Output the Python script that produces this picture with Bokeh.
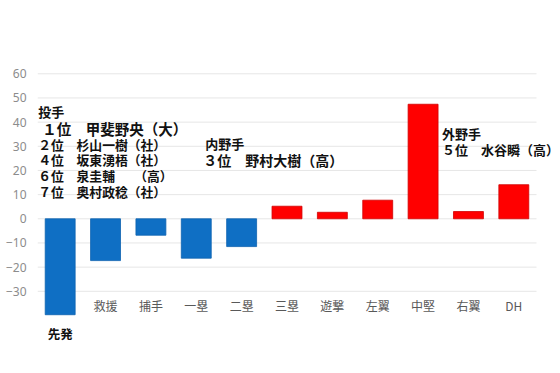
from bokeh.plotting import figure
from bokeh.models import FixedTicker, ColumnDataSource, Range1d, Label
from bokeh.core.properties import value
from bokeh.embed import file_html
from bokeh.resources import INLINE

cats = ["先発", "救援", "捕手", "一塁", "二塁", "三塁", "遊撃", "左翼", "中堅", "右翼", "DH"]
vals = [-39.7, -17.3, -6.8, -16.3, -11.5, 5.2, 2.7, 7.7, 47.4, 3.0, 14.1]
y_ticks = [-30, -20, -10, 0, 10, 20, 30, 40, 50, 60]

FONT = "Noto Sans CJK JP"
n = len(cats)
xs = [i + 0.5 for i in range(n)]  # category slot centres
fills = ["#0F6FC4" if v < 0 else "#FF0000" for v in vals]
edges = ["#0C62B0" if v < 0 else "#D00000" for v in vals]

p = figure(width=560, height=373, output_backend="svg", toolbar_location=None,
           x_range=Range1d(0, n * 523 / 499), y_range=(-54.5, 65.5),
           min_border_left=37, min_border_right=0, min_border_top=60, min_border_bottom=23)
p.outline_line_color = None
p.background_fill_color = "white"
p.xgrid.visible = False
p.ygrid.visible = False

# horizontal gridlines over the category area only
p.segment(x0=[0] * len(y_ticks), x1=[n] * len(y_ticks), y0=y_ticks, y1=y_ticks,
          line_color="#e6e6e6", line_width=1)

src = ColumnDataSource(dict(x=xs, top=vals, fill=fills, edge=edges))
p.vbar(x="x", top="top", bottom=0, width=0.66, source=src, fill_color="fill",
       line_color="edge", line_width=0.8)

p.xaxis.visible = False
p.yaxis.ticker = FixedTicker(ticks=y_ticks)
p.yaxis.axis_line_color = None
p.yaxis.major_tick_line_color = None
p.yaxis.minor_tick_line_color = None
p.yaxis.major_tick_out = 0
p.yaxis.major_tick_in = 0
p.yaxis.minor_tick_out = 0
p.yaxis.major_label_standoff = 11
p.yaxis.major_label_text_color = "#8c8c8c"
p.yaxis.major_label_text_font = "Noto Sans"
p.yaxis.major_label_text_font_size = "12px"

# category labels
p.text(x=xs[1:], y=[-35.9] * (n - 1), text=cats[1:], text_align="center",
       text_baseline="middle", text_color="#595959", text_font=value(FONT),
       text_font_size="12px")
p.text(x=xs[:1], y=[-47.5], text=cats[:1], text_align="center",
       text_baseline="middle", text_color="#111111", text_font=value(FONT),
       text_font_size="12.5px", text_font_style="bold")

# annotations
ann = [
    ("先発", -22, 44.5, "投手", "13px"),
    ("先発", -18, 37.4, "１位　甲斐野央（大）", "14.5px"),
    ("先発", -22, 30.7, "２位　杉山一樹（社）", "12.8px"),
    ("先発", -22, 24.5, "４位　坂東湧梧（社）", "12.8px"),
    ("先発", -22, 17.9, "６位　泉圭輔　　（高）", "12.8px"),
    ("先発", -22, 11.3, "７位　奥村政稔（社）", "12.8px"),
    ("一塁", 9, 31.2, "内野手", "13px"),
    ("一塁", 7, 24.5, "３位　野村大樹（高）", "14px"),
    ("中堅", 19, 35.3, "外野手", "13px"),
    ("中堅", 19, 28.7, "５位　水谷瞬（高）", "13px"),
]
for cx, off, yy, t, fs in ann:
    p.add_layout(Label(x=xs[cats.index(cx)], y=yy, text=t, x_offset=off,
                       text_align="left", text_baseline="middle",
                       text_color="#111111", text_font=FONT,
                       text_font_size=fs, text_font_style="bold"))

open("out.html", "w").write(file_html(p, INLINE))
